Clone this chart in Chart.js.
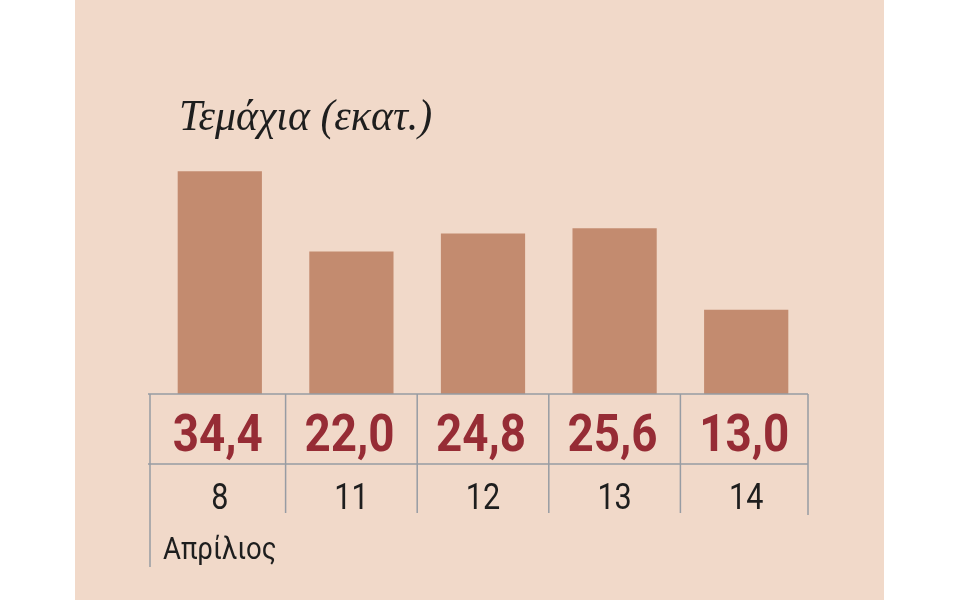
<!DOCTYPE html>
<html>
<head>
<meta charset="utf-8">
<script src="https://cdn.jsdelivr.net/npm/chart.js@4"></script>
<style>
  html, body { margin: 0; padding: 0; background: #ffffff; }
  #wrap { width: 960px; height: 600px; }
</style>
</head>
<body>
<div id="wrap"><canvas id="chart" width="960" height="600"></canvas></div>
<script>
// data
const days = ['8', '11', '12', '13', '14'];
const units = [34.4, 22.0, 24.8, 25.6, 13.0];
const valueLabels = ['34,4', '22,0', '24,8', '25,6', '13,0'];
const monthLabel = 'Απρίλιος';
const titleText = 'Τεμάχια (εκατ.)';

const panelColor = '#f1d9c9';
const barColor = '#c38b6f';
const valueColor = '#962c35';
const textColor = '#1e1e1e';
const lineColor = '#979ca3';

// draw text squeezed horizontally, the original uses condensed faces
function squeezed(ctx, text, x, y, sx) {
  ctx.save();
  ctx.translate(x, y);
  ctx.scale(sx, 1);
  ctx.fillText(text, 0, 0);
  ctx.restore();
}

// beige panel behind everything
const panelPlugin = {
  id: 'panel',
  beforeDraw(chart) {
    const ctx = chart.ctx;
    ctx.save();
    ctx.fillStyle = panelColor;
    ctx.fillRect(75, 0, 884 - 75, chart.height);
    ctx.fillStyle = textColor;
    ctx.font = 'italic 45px "Liberation Serif"';
    ctx.textBaseline = 'alphabetic';
    ctx.textAlign = 'left';
    squeezed(ctx, titleText, 179, 130, 0.93);
    ctx.restore();
  }
};

// value table under the bars
const tablePlugin = {
  id: 'table',
  afterDraw(chart) {
    const ctx = chart.ctx;
    const x = chart.scales.x;
    const y = chart.scales.y;
    const top = y.getPixelForValue(0);
    const mid = top + 70;
    const step = days.length > 1 ? x.getPixelForValue(1) - x.getPixelForValue(0) : x.width;
    const edges = [];
    for (let i = 0; i <= days.length; i++) {
      edges.push(x.getPixelForValue(0) - step / 2 + i * step);
    }
    ctx.save();
    ctx.strokeStyle = lineColor;
    ctx.lineWidth = 1.5;
    ctx.beginPath();
    ctx.moveTo(edges[0] - 6, top);
    ctx.lineTo(edges[edges.length - 1] - 4, top);
    ctx.moveTo(edges[0] - 6, mid);
    ctx.lineTo(edges[edges.length - 1] - 4, mid);
    edges.forEach((ex, i) => {
      let xx = ex;
      let bottom = top + 119;
      if (i === 0) { xx = ex - 4; bottom = top + 173; }
      if (i === edges.length - 1) { xx = ex - 4; bottom = top + 121; }
      ctx.moveTo(xx, top);
      ctx.lineTo(xx, bottom);
    });
    ctx.stroke();

    ctx.textAlign = 'center';
    ctx.textBaseline = 'alphabetic';
    ctx.fillStyle = valueColor;
    ctx.font = 'bold 52px Roboto';
    valueLabels.forEach((t, i) => {
      squeezed(ctx, t, x.getPixelForValue(i) - 2, top + 57, 0.88);
    });
    ctx.fillStyle = textColor;
    ctx.font = '36px Roboto';
    days.forEach((d, i) => {
      squeezed(ctx, d, x.getPixelForValue(i), top + 115, 0.85);
    });
    ctx.textAlign = 'left';
    ctx.font = '32px Roboto';
    squeezed(ctx, monthLabel, edges[0] + 9, top + 165, 0.86);
    ctx.restore();
  }
};

new Chart(document.getElementById('chart'), {
  type: 'bar',
  data: {
    labels: days,
    datasets: [{
      data: units,
      backgroundColor: barColor,
      borderWidth: 0,
      barPercentage: 0.64,
      categoryPercentage: 1.0
    }]
  },
  options: {
    responsive: false,
    animation: false,
    devicePixelRatio: 1,
    layout: { padding: { left: 154, right: 148, top: 135, bottom: 206 } },
    plugins: {
      legend: { display: false },
      tooltip: { enabled: false }
    },
    scales: {
      x: { display: false, offset: true },
      y: { display: false, min: 0, max: 40 }
    }
  },
  plugins: [panelPlugin, tablePlugin]
});
</script>
</body>
</html>
